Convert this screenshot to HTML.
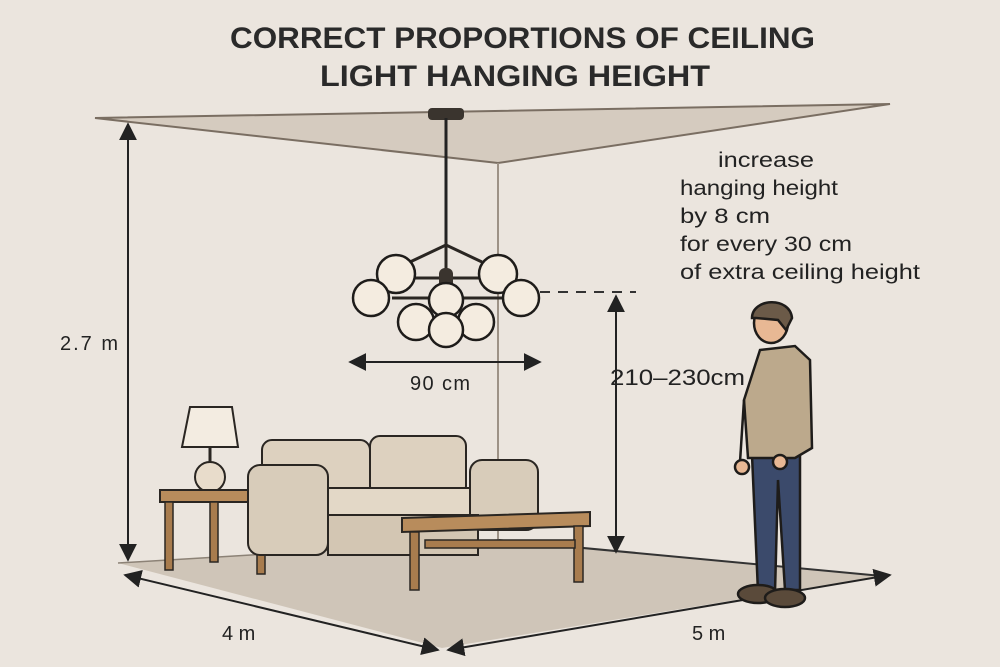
<!DOCTYPE html>
<html><head><meta charset="utf-8"><style>
html,body{margin:0;padding:0;background:#ebe5de;}
svg{display:block;font-family:"Liberation Sans",sans-serif;}
</style></head><body>
<svg width="1000" height="667" viewBox="0 0 1000 667" xmlns="http://www.w3.org/2000/svg">
<defs>
<marker id="a" viewBox="0 0 10 10" refX="9" refY="5" markerWidth="9" markerHeight="9" orient="auto-start-reverse"><path d="M0,0 L10,5 L0,10 z" fill="#222"/></marker>
</defs>
<rect width="1000" height="667" fill="#ebe5de"/>
<!-- ceiling -->
<polygon points="95,118 890,104 498,163" fill="#d5cbbf" stroke="#7a6e62" stroke-width="2"/>
<!-- floor -->
<polygon points="118,563 498,540 882,576 442,648" fill="#cfc5b8"/>
<line x1="118" y1="563" x2="498" y2="540" stroke="#8c8276" stroke-width="1.5"/>
<line x1="498" y1="540" x2="882" y2="576" stroke="#333" stroke-width="2"/>
<line x1="498" y1="163" x2="498" y2="540" stroke="#9d9286" stroke-width="2"/>
<!-- title -->
<text x="230" y="48" textLength="585" lengthAdjust="spacingAndGlyphs" font-size="30" font-weight="bold" fill="#2a2a2a">CORRECT PROPORTIONS OF CEILING</text>
<text x="320" y="86" textLength="390" lengthAdjust="spacingAndGlyphs" font-size="30" font-weight="bold" fill="#2a2a2a">LIGHT HANGING HEIGHT</text>
<!-- dims -->
<line x1="128" y1="124" x2="128" y2="560" stroke="#222" stroke-width="2" marker-start="url(#a)" marker-end="url(#a)"/>
<text x="60" y="350" font-size="20" fill="#222" textLength="58">2.7 m</text>
<line x1="125" y1="575" x2="438" y2="650" stroke="#222" stroke-width="2" marker-start="url(#a)" marker-end="url(#a)"/>
<text x="222" y="640" font-size="20" fill="#222">4 m</text>
<line x1="448" y1="650" x2="890" y2="575" stroke="#222" stroke-width="2" marker-start="url(#a)" marker-end="url(#a)"/>
<text x="692" y="640" font-size="20" fill="#222">5 m</text>
<line x1="350" y1="362" x2="540" y2="362" stroke="#222" stroke-width="2" marker-start="url(#a)" marker-end="url(#a)"/>
<text x="410" y="390" font-size="20" fill="#222" textLength="60">90 cm</text>
<line x1="540" y1="292" x2="636" y2="292" stroke="#333" stroke-width="2" stroke-dasharray="10,8"/>
<line x1="616" y1="296" x2="616" y2="552" stroke="#222" stroke-width="2" marker-start="url(#a)" marker-end="url(#a)"/>
<text x="610" y="385" font-size="22" fill="#222" textLength="135" lengthAdjust="spacingAndGlyphs">210–230cm</text>
<g font-size="21" fill="#222">
<text x="718" y="167" textLength="96" lengthAdjust="spacingAndGlyphs">increase</text>
<text x="680" y="195" textLength="158" lengthAdjust="spacingAndGlyphs">hanging height</text>
<text x="680" y="223" textLength="90" lengthAdjust="spacingAndGlyphs">by 8 cm</text>
<text x="680" y="251" textLength="172" lengthAdjust="spacingAndGlyphs">for every 30 cm</text>
<text x="680" y="279" textLength="240" lengthAdjust="spacingAndGlyphs">of extra ceiling height</text>
</g>
<!-- chandelier -->
<rect x="428" y="108" width="36" height="12" rx="4" fill="#3a342e"/>
<line x1="446" y1="118" x2="446" y2="240" stroke="#222" stroke-width="3"/>
<g stroke="#2a2622" stroke-width="3" fill="none">
<line x1="446" y1="245" x2="410" y2="262"/><line x1="446" y1="245" x2="482" y2="262"/>
<line x1="395" y1="278" x2="500" y2="278"/>
<line x1="392" y1="298" x2="505" y2="298"/>
<line x1="446" y1="240" x2="446" y2="320"/>
</g>
<rect x="439" y="268" width="14" height="22" rx="6" fill="#3a342e"/>
<g fill="#f4ece0" stroke="#1e1c1a" stroke-width="2.5">
<circle cx="446" cy="300" r="17"/>
<circle cx="396" cy="274" r="19"/><circle cx="498" cy="274" r="19"/>
<circle cx="371" cy="298" r="18"/><circle cx="521" cy="298" r="18"/>
<circle cx="416" cy="322" r="18"/><circle cx="476" cy="322" r="18"/>
<circle cx="446" cy="330" r="17"/>
</g>
<!-- lamp + side table -->
<polygon points="190,407 232,407 238,447 182,447" fill="#f3ece1" stroke="#2a2622" stroke-width="2"/>
<line x1="210" y1="447" x2="210" y2="462" stroke="#2a2622" stroke-width="3"/>
<circle cx="210" cy="477" r="15" fill="#e8dccb" stroke="#2a2622" stroke-width="2"/>
<rect x="160" y="490" width="110" height="12" fill="#b88c5c" stroke="#2a2622" stroke-width="2"/>
<rect x="165" y="502" width="8" height="68" fill="#a87c4e" stroke="#2a2622" stroke-width="1.5"/>
<rect x="257" y="502" width="8" height="72" fill="#a87c4e" stroke="#2a2622" stroke-width="1.5"/>
<rect x="210" y="502" width="8" height="60" fill="#a87c4e" stroke="#2a2622" stroke-width="1.5"/>
<!-- sofa -->
<g stroke="#2a2622" stroke-width="2">
<rect x="262" y="440" width="108" height="60" rx="10" fill="#ddd1bf"/>
<rect x="370" y="436" width="96" height="60" rx="10" fill="#ddd1bf"/>
<rect x="300" y="488" width="220" height="30" rx="8" fill="#e3d8c7"/>
<rect x="248" y="465" width="80" height="90" rx="12" fill="#d8ccba"/>
<rect x="470" y="460" width="68" height="70" rx="12" fill="#d8ccba"/>
<rect x="328" y="515" width="150" height="40" fill="#d3c6b3"/>
</g>
<!-- coffee table -->
<polygon points="402,518 590,512 590,526 402,532" fill="#b88c5c" stroke="#2a2622" stroke-width="2"/>
<rect x="410" y="532" width="9" height="58" fill="#a87c4e" stroke="#2a2622" stroke-width="1.5"/>
<rect x="574" y="526" width="9" height="56" fill="#a87c4e" stroke="#2a2622" stroke-width="1.5"/>
<rect x="425" y="540" width="150" height="8" fill="#a87c4e" stroke="#2a2622" stroke-width="1.5"/>
<!-- person -->
<g stroke="#1e1c1a" stroke-width="2.5">
<path d="M752,455 L800,455 L800,590 L785,590 L778,480 L775,592 L758,592 Z" fill="#3b4a6b"/>
<ellipse cx="758" cy="594" rx="20" ry="9" fill="#5a4a3a"/>
<ellipse cx="785" cy="598" rx="20" ry="9" fill="#5a4a3a"/>
<path d="M760,350 L795,346 L810,360 L812,448 L795,458 L748,458 L744,400 Z" fill="#bca98c"/>
<path d="M744,400 L740,462" fill="none"/>
<circle cx="742" cy="467" r="7" fill="#e8b894"/>
<circle cx="780" cy="462" r="7" fill="#e8b894"/>
<ellipse cx="771" cy="323" rx="17" ry="20" fill="#e8b894"/>
<path d="M752,318 C752,298 790,296 792,318 L786,330 L778,320 L756,318 Z" fill="#6b5a48"/>
</g>
</svg>
</body></html>
